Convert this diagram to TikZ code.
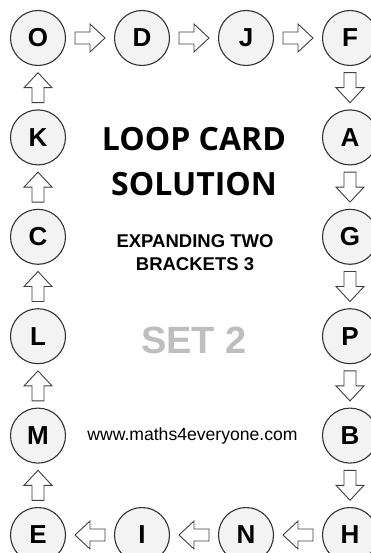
\documentclass[tikz,border=0pt]{standalone}
\usepackage{fontspec}
\setmainfont{Liberation Sans}
\newfontfamily\titlefont{Open Sans}
\usepackage{tikz}
\usetikzlibrary{calc}

\definecolor{cardfill}{HTML}{F3F3F3}
\definecolor{setgray}{HTML}{BEBEBE}

\tikzset{
    card/.style={circle, draw=black!80, line width=1.1pt, fill=cardfill,
        minimum size=55pt, inner sep=0pt, font=\fontsize{26}{26}\selectfont\bfseries},
    arrowline/.style={draw=black!75, line width=0.9pt, fill=white, line join=miter},
    pics/blockarrow/.style={code={
        \draw[arrowline] (-15,-6) -- (0,-6) -- (0,-14) -- (15,0) -- (0,14) -- (0,6) -- (-15,6) -- cycle;
    }},
    title/.style={anchor=base, font=\titlefont\fontsize{32}{32}\selectfont\bfseries},
    subtitle/.style={anchor=base, font=\fontsize{18.5}{18.5}\selectfont\bfseries}
}

\begin{document}
\begin{tikzpicture}[x=1pt, y=-1pt]
    \useasboundingbox (0,0) rectangle (370,553);

    % Cards round the edge
    \foreach \name/\i/\j in {O/0/0, D/1/0, J/2/0, F/3/0, A/3/1, G/3/2, P/3/3, B/3/4,
                             H/3/5, N/2/5, I/1/5, E/0/5, M/0/4, L/0/3, C/0/2, K/0/1} {
        \node[card] (\name) at (38+104*\i, 38+99.4*\j) {\name};
    }

    % Hollow arrows between cards
    \foreach \a/\b/\r in {O/D/0, D/J/0, J/F/0, F/A/-90, A/G/-90, G/P/-90, P/B/-90, B/H/-90,
                          H/N/180, N/I/180, I/E/180, E/M/90, M/L/90, L/C/90, C/K/90, K/O/90} {
        \pic[rotate=\r] at ($(\a)!0.5!(\b)$) {blockarrow};
    }

    % Middle text
    \node[title] (loop) at (194,151) {LOOP CARD};
    \node[title] (sol) at (194,196) {SOLUTION};
    \node[subtitle] (topic1) at (195,247) {EXPANDING TWO};
    \node[subtitle] (topic2) at (195,270) {BRACKETS 3};
    \node[anchor=base, text=setgray, font=\fontsize{38}{38}\selectfont\bfseries] (set) at (194,353) {SET 2};
    \node[anchor=base, font=\fontsize{17.6}{17.6}\selectfont] (web) at (192.5,440) {www.maths4everyone.com};
\end{tikzpicture}
\end{document}
